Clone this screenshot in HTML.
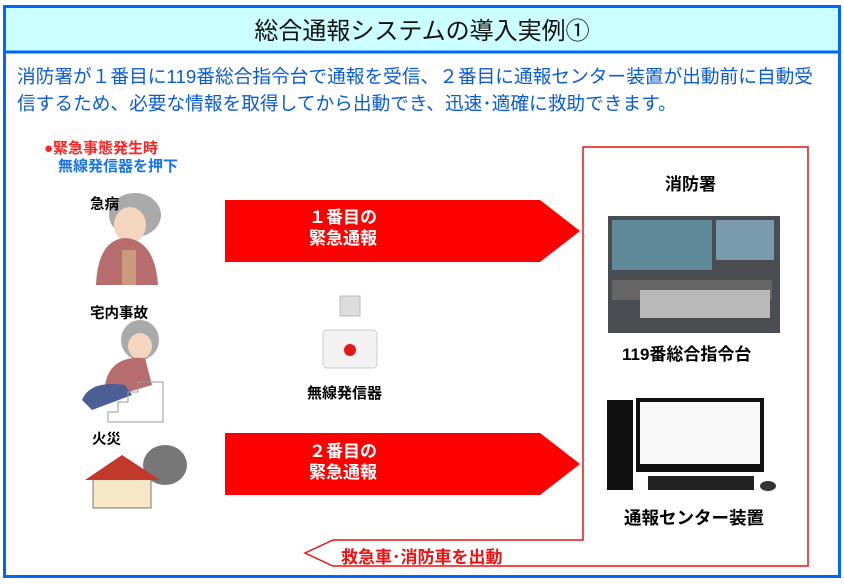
<!DOCTYPE html>
<html><head><meta charset="utf-8"><style>
body{margin:0;width:844px;height:584px;background:#fff;position:relative;overflow:hidden;font-family:"Liberation Sans","Noto Sans CJK JP",sans-serif}
.t{position:absolute;white-space:nowrap}
</style></head><body>
<svg width="844" height="584" style="position:absolute;left:0;top:0">
<rect x="4.5" y="6.5" width="835" height="570" fill="#fff" stroke="#0066ff" stroke-width="3"/>
<rect x="6" y="8" width="832" height="43" fill="#ccffff"/>
<line x1="5" y1="52" x2="839" y2="52" stroke="#0066ff" stroke-width="3"/>
<polygon points="583,147 808,147 808,566 333,566 305,553 333,540 583,540" fill="none" stroke="#ee1111" stroke-width="1.5"/>
<polygon points="225,200 540,200 580,231 540,262 225,262" fill="#ff0000"/>
<polygon points="225,433 540,433 580,464 540,495 225,495" fill="#ff0000"/>
<!-- person 1 -->
<ellipse cx="135" cy="215" rx="26" ry="22" fill="#aaa"/>
<ellipse cx="130" cy="225" rx="16" ry="18" fill="#f4d5c0"/>
<path d="M96 285 Q98 240 125 238 Q155 240 158 285 Z" fill="#b76d6d"/>
<rect x="122" y="250" width="14" height="35" fill="#c99a7e"/>
<!-- person 2 -->
<ellipse cx="140" cy="340" rx="19" ry="20" fill="#aaa"/>
<ellipse cx="140" cy="346" rx="12" ry="13" fill="#f4d5c0"/>
<path d="M105 385 Q110 355 145 358 L152 385 L118 395 Z" fill="#b76d6d"/>
<path d="M82 400 Q90 380 125 385 L132 395 L92 410 Z" fill="#4c5e96"/>
<path d="M108 422 L108 412 L118 412 L118 402 L128 402 L128 392 L138 392 L138 382 L163 382 L163 422 Z" fill="none" stroke="#999"/>
<!-- house -->
<ellipse cx="165" cy="465" rx="22" ry="20" fill="#777"/>
<rect x="93" y="478" width="58" height="30" fill="#f6e7c7" stroke="#777"/>
<polygon points="85,480 122,455 160,480" fill="#c0392b"/>
<!-- device -->
<rect x="340" y="296" width="20" height="20" fill="#ddd" stroke="#bbb"/>
<rect x="323" y="330" width="54" height="38" rx="4" fill="#f2f2f2" stroke="#ccc"/>
<circle cx="350" cy="350" r="6" fill="#e31818"/>
<!-- control room photo -->
<rect x="608" y="216" width="172" height="117" fill="#4a4e52"/>
<rect x="612" y="220" width="100" height="50" fill="#5f8a9a"/>
<rect x="716" y="220" width="58" height="40" fill="#7a9aae"/>
<rect x="612" y="280" width="160" height="20" fill="#666"/>
<rect x="640" y="290" width="130" height="28" fill="#b9b9b9"/>
<!-- PC -->
<rect x="607" y="400" width="26" height="90" fill="#111"/>
<rect x="636" y="398" width="128" height="74" fill="#111"/>
<rect x="640" y="402" width="120" height="62" fill="#f8f8f8"/>
<rect x="648" y="476" width="106" height="14" fill="#222"/>
<ellipse cx="768" cy="486" rx="8" ry="5" fill="#333"/>
</svg>
<div class="t" style="left:0;width:844px;top:11px;text-align:center;font-size:24px;color:#111">総合通報システムの導入実例①</div>
<div class="t" style="left:17px;top:63px;font-size:18.7px;color:#0a5bd6;line-height:27px">消防署が１番目に119番総合指令台で通報を受信、２番目に通報センター装置が出動前に自動受<br>信するため、必要な情報を取得してから出動でき、迅速･適確に救助できます。</div>
<div class="t" style="left:44px;top:137px;font-size:15px;color:#ff2020;font-weight:bold">●緊急事態発生時</div>
<div class="t" style="left:58px;top:155px;font-size:15px;color:#1a73e8;font-weight:bold">無線発信器を押下</div>
<div class="t" style="left:90px;top:193px;font-size:14.5px;font-weight:bold">急病</div>
<div class="t" style="left:90px;top:302px;font-size:14.5px;font-weight:bold">宅内事故</div>
<div class="t" style="left:92px;top:428px;font-size:14.5px;font-weight:bold">火災</div>
<div class="t" style="left:307px;top:382px;font-size:15px;font-weight:bold">無線発信器</div>
<div class="t" style="left:309px;top:207px;font-size:17px;color:#fff;font-weight:bold;line-height:21px">１番目の<br>緊急通報</div>
<div class="t" style="left:309px;top:441px;font-size:17px;color:#fff;font-weight:bold;line-height:21px">２番目の<br>緊急通報</div>
<div class="t" style="left:665px;top:170px;font-size:17px;font-weight:bold">消防署</div>
<div class="t" style="left:622px;top:340px;font-size:17px;font-weight:bold">119番総合指令台</div>
<div class="t" style="left:624px;top:505px;font-size:17.5px;font-weight:bold">通報センター装置</div>
<div class="t" style="left:341px;top:543px;font-size:17px;color:#ee1111;font-weight:bold">救急車･消防車を出動</div>
</body></html>
